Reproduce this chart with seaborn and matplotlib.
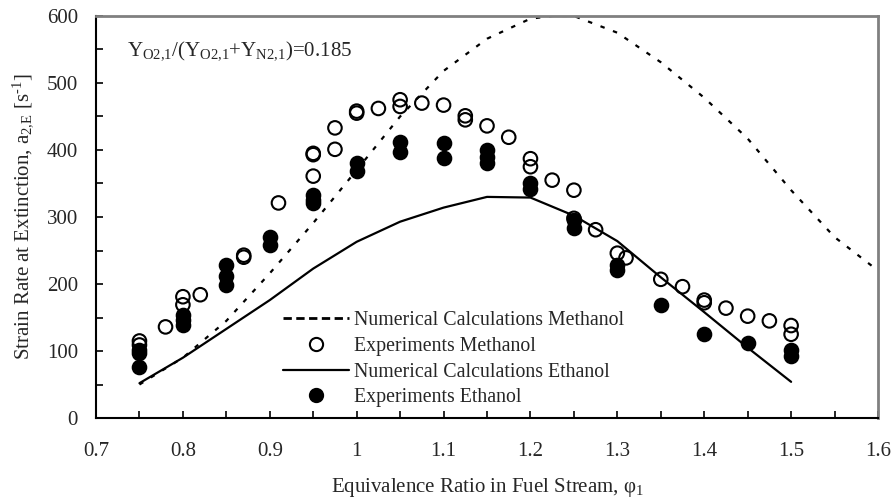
import matplotlib
matplotlib.use("Agg")
import matplotlib.pyplot as plt
import seaborn as sns
from matplotlib.lines import Line2D
from matplotlib.ticker import MultipleLocator

# numerical calculations
meth_calc_phi = [0.75, 0.80, 0.85, 0.90, 0.95, 1.00, 1.05, 1.10, 1.15, 1.20, 1.225,
                 1.25, 1.30, 1.35, 1.40, 1.45, 1.50, 1.55, 1.60]
meth_calc_a = [50, 90, 145, 216, 291, 370, 450, 518, 566, 596, 600,
               600, 575, 531, 478, 417, 340, 270, 220]
eth_calc_phi = [0.75, 0.80, 0.85, 0.90, 0.95, 1.00, 1.05, 1.10, 1.15, 1.20,
                1.25, 1.30, 1.35, 1.40, 1.45, 1.50]
eth_calc_a = [52, 90, 133, 176, 223, 263, 293, 314, 330, 329,
              302, 264, 210, 158, 105, 54]

# experiments
meth_exp_phi = [0.75, 0.75, 0.78, 0.80, 0.80, 0.82, 0.87, 0.87, 0.91, 0.95, 0.95, 0.95,
                0.975, 0.975, 1.00, 1.00, 1.025, 1.05, 1.05, 1.075, 1.10, 1.125, 1.125,
                1.15, 1.175, 1.20, 1.20, 1.225, 1.25, 1.25, 1.275, 1.30, 1.31, 1.35,
                1.375, 1.40, 1.40, 1.425, 1.45, 1.475, 1.50, 1.50]
meth_exp_a = [115, 109, 136, 181, 169, 184, 243, 240, 321, 395, 393, 361,
              433, 401, 458, 455, 462, 475, 465, 470, 467, 451, 445,
              436, 419, 387, 375, 355, 340, 298, 281, 246, 239, 207,
              196, 176, 172, 164, 152, 145, 138, 125]
eth_exp_phi = [0.75, 0.75, 0.75, 0.80, 0.80, 0.80, 0.85, 0.85, 0.85, 0.90, 0.90,
               0.95, 0.95, 0.95, 1.00, 1.00, 1.05, 1.05, 1.10, 1.10, 1.15, 1.15, 1.15,
               1.20, 1.20, 1.25, 1.25, 1.30, 1.30, 1.35, 1.40, 1.45, 1.50, 1.50]
eth_exp_a = [101, 97, 76, 154, 146, 139, 228, 212, 198, 270, 258,
             333, 326, 321, 380, 368, 412, 397, 410, 388, 400, 390, 380,
             351, 342, 295, 284, 228, 221, 168, 125, 112, 101, 93]

labels = ["Numerical Calculations Methanol", "Experiments Methanol",
          "Numerical Calculations Ethanol", "Experiments Ethanol"]

sns.set_style("ticks")
plt.rcParams["font.family"] = ["Liberation Serif", "DejaVu Serif"]
plt.rcParams["mathtext.fontset"] = "custom"
plt.rcParams["mathtext.rm"] = "Liberation Serif"
plt.rcParams["mathtext.it"] = "Liberation Serif:italic"
plt.rcParams["mathtext.default"] = "regular"

fig = plt.figure(figsize=(8.94, 5.04), dpi=100)
ax = fig.add_axes([0.1074, 0.1706, 0.9821 - 0.1074, 0.9683 - 0.1706])

dotted = (0, (2, 4))
sns.lineplot(x=meth_calc_phi, y=meth_calc_a, ax=ax, color="black", lw=1.6,
             linestyle=dotted)
sns.lineplot(x=eth_calc_phi, y=eth_calc_a, ax=ax, color="black", lw=1.6)
sns.scatterplot(x=meth_exp_phi, y=meth_exp_a, ax=ax, marker="o", s=95,
                facecolors="none", edgecolor="black", linewidth=1.5, zorder=3)
sns.scatterplot(x=eth_exp_phi, y=eth_exp_a, ax=ax, marker="o", s=95,
                color="black", edgecolor="black", linewidth=1.5, zorder=3)

ax.set_xlim(0.7, 1.6)
ax.set_ylim(0, 600)
ax.xaxis.set_major_locator(MultipleLocator(0.1))
ax.xaxis.set_minor_locator(MultipleLocator(0.05))
ax.yaxis.set_major_locator(MultipleLocator(100))
ax.yaxis.set_minor_locator(MultipleLocator(50))
ax.set_xticks([0.7, 0.8, 0.9, 1.0, 1.1, 1.2, 1.3, 1.4, 1.5, 1.6])
ax.set_xticklabels(["0.7", "0.8", "0.9", "1", "1.1", "1.2", "1.3", "1.4", "1.5", "1.6"])
ax.tick_params(which="both", direction="in", length=5, width=1.2, color="black",
               labelsize=15)
ax.tick_params(axis="x", pad=17)
ax.tick_params(axis="y", pad=13)
for side in ["left", "bottom"]:
    ax.spines[side].set_color("black")
    ax.spines[side].set_linewidth(1.5)
for side in ["top", "right"]:
    ax.spines[side].set_visible(True)
    ax.spines[side].set_color("#808080")
    ax.spines[side].set_linewidth(2)

ax.set_xlabel("Equivalence Ratio in Fuel Stream, φ$_1$", fontsize=15, labelpad=11)
ax.set_ylabel("Strain Rate at Extinction, a$_{2{,}E}$ [s$^{\\text{-}1}$]", fontsize=15,
              labelpad=8)

ax.text(0.04, 0.915, "Y$_{O2{,}1}$/(Y$_{O2{,}1}$+Y$_{N2{,}1}$)=0.185",
        transform=ax.transAxes, fontsize=15, va="center", ha="left")

handles = [
    Line2D([], [], color="black", lw=2, linestyle=(0, (3, 1.6))),
    Line2D([], [], color="black", marker="o", markersize=9.5, markerfacecolor="none",
           markeredgewidth=1.5, linestyle="none"),
    Line2D([], [], color="black", lw=1.6),
    Line2D([], [], color="black", marker="o", markersize=9.5, markerfacecolor="black",
           markeredgewidth=1.5, linestyle="none"),
]
ax.legend(handles, labels, loc="upper left", bbox_to_anchor=(283 / 894, 1 - 311 / 504),
          bbox_transform=fig.transFigure, frameon=False, fontsize=14.3,
          handlelength=3.3, handletextpad=0.3, labelspacing=0.34,
          borderpad=0, borderaxespad=0)

fig.savefig("out.png", dpi=100)
